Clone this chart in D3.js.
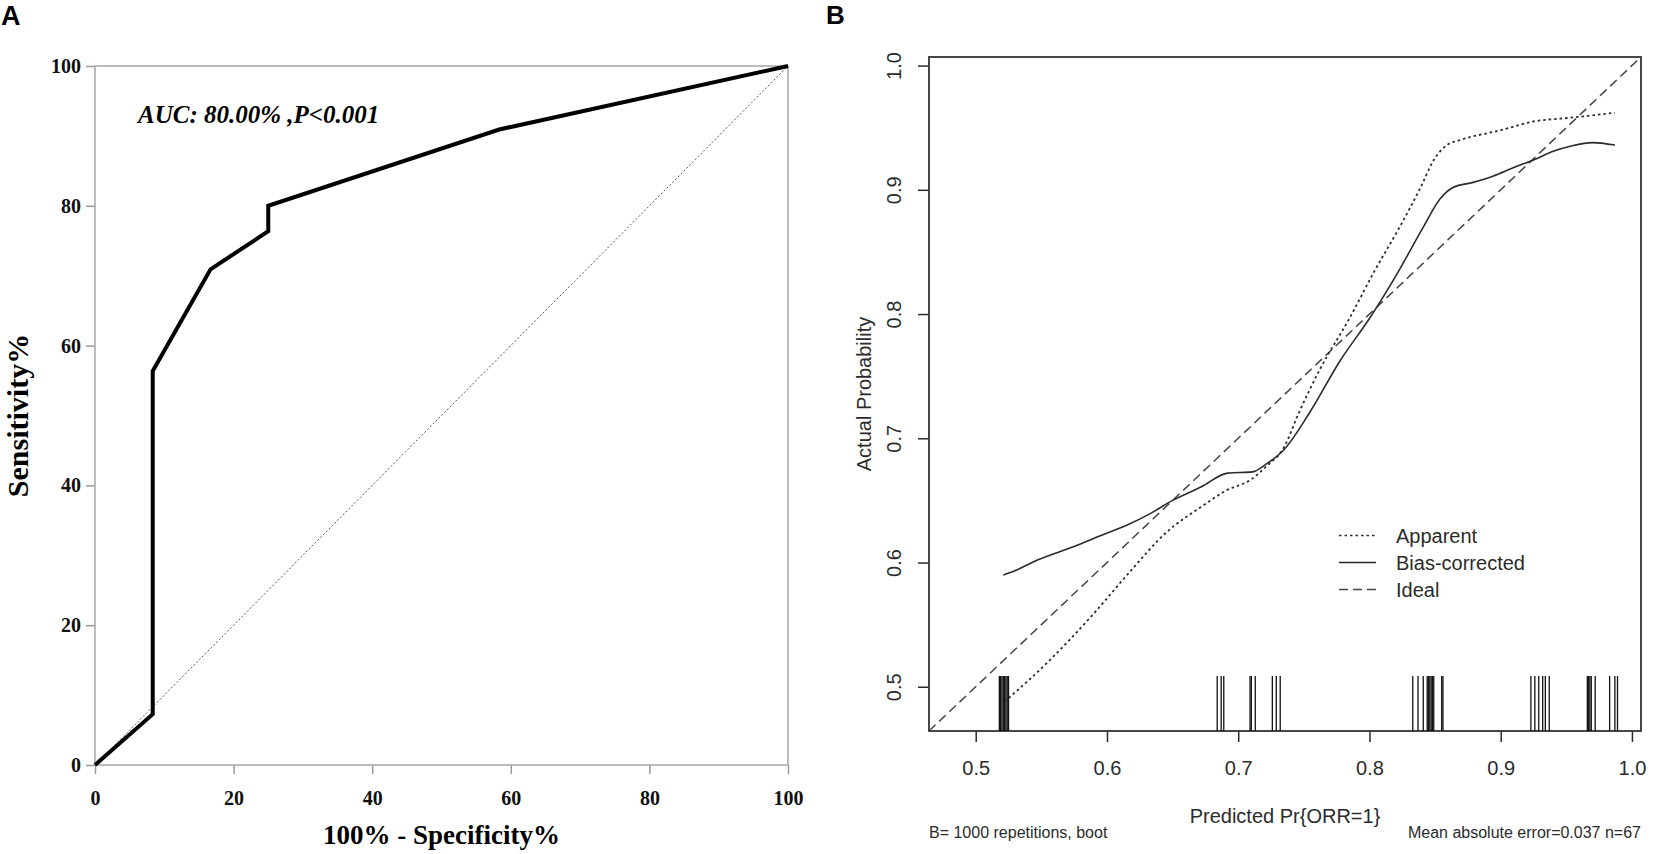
<!DOCTYPE html>
<html>
<head>
<meta charset="utf-8">
<script src="https://cdn.jsdelivr.net/npm/d3@7"></script>
<style>
    body { margin: 0; background: #fff; }
</style>
</head>
<body>
<svg id="drawing_region"></svg>
<script>
// ---- panel A : ROC ----
const rocFpr = [0, 8.33, 8.33, 16.67, 25, 25, 58.33, 100];
const rocTpr = [0, 7.27, 56.36, 70.91, 76.36, 80, 90.91, 100];
const rocTicks = [0, 20, 40, 60, 80, 100];
const aucLabel = "AUC: 80.00% ,P<0.001";

// ---- panel B : calibration ----
const apparentX = [0.522, 0.557, 0.590, 0.617, 0.645, 0.672, 0.691, 0.710, 0.721, 0.735, 0.746, 0.762,
                   0.785, 0.803, 0.823, 0.839, 0.849, 0.859, 0.869, 0.900, 0.925, 0.953, 0.987];
const apparentY = [0.488, 0.522, 0.559, 0.592, 0.624, 0.645, 0.658, 0.667, 0.677, 0.693, 0.720, 0.755,
                   0.797, 0.833, 0.870, 0.902, 0.924, 0.936, 0.940, 0.948, 0.955, 0.958, 0.962];
const biasX = [0.521, 0.529, 0.547, 0.575, 0.596, 0.615, 0.634, 0.650, 0.672, 0.692, 0.711, 0.721, 0.735, 0.754,
               0.778, 0.801, 0.823, 0.841, 0.854, 0.864, 0.879, 0.894, 0.910, 0.925, 0.940, 0.953, 0.970, 0.987];
const biasY = [0.590, 0.593, 0.602, 0.613, 0.622, 0.630, 0.640, 0.650, 0.661, 0.672, 0.673, 0.679, 0.691, 0.720,
               0.763, 0.798, 0.836, 0.870, 0.893, 0.902, 0.906, 0.911, 0.918, 0.924, 0.931, 0.935, 0.938, 0.936];
const rugX = [0.518, 0.519, 0.520, 0.521, 0.522, 0.523, 0.524, 0.525,
              0.684, 0.687, 0.689, 0.709, 0.710, 0.713, 0.726, 0.729, 0.732,
              0.833, 0.837, 0.841, 0.844, 0.845, 0.846, 0.847, 0.848, 0.849, 0.855, 0.856,
              0.923, 0.926, 0.929, 0.932, 0.934, 0.937,
              0.966, 0.967, 0.968, 0.969, 0.972, 0.983, 0.987, 0.989];
const calTicks = [0.5, 0.6, 0.7, 0.8, 0.9, 1.0];
const calRange = [0.4644, 1.0069];
const legendLabels = ["Apparent", "Bias-corrected", "Ideal"];
const subLeft = "B= 1000 repetitions, boot";
const subRight = "Mean absolute error=0.037 n=67";

const serif = "'Liberation Serif', 'Times New Roman', serif";
const sans = "'Liberation Sans', Arial, sans-serif";

const svg = d3.select('#drawing_region')
    .attr('width', 1654)
    .attr('height', 854);

// panel letters
svg.append('text').attr('x', 1).attr('y', 25)
    .attr('font-family', sans).attr('font-weight', 'bold').attr('font-size', 27)
    .text('A');
svg.append('text').attr('x', 826).attr('y', 24)
    .attr('font-family', sans).attr('font-weight', 'bold').attr('font-size', 26)
    .text('B');

class RocChart {
    constructor(config) {
        this.config = config;
        this.init();
    }

    init() {
        let self = this;
        let c = self.config;
        self.width = c.right - c.left;
        self.height = c.bottom - c.top;
        self.chart = svg.append('g')
            .attr('transform', `translate(${c.left}, ${c.top})`);
        self.xscale = d3.scaleLinear().domain([0, 100]).range([0, self.width]);
        self.yscale = d3.scaleLinear().domain([0, 100]).range([self.height, 0]);
    }

    render() {
        let self = this;
        const axisStyle = g => {
            g.select('.domain').remove();
            g.selectAll('line').attr('stroke', '#9a9a9a').attr('stroke-width', 1.5);
            g.selectAll('text').attr('fill', '#111');
            g.attr('font-family', serif).attr('font-weight', 'bold').attr('font-size', 20);
        };

        self.chart.append('g')
            .attr('transform', `translate(0, ${self.height})`)
            .call(d3.axisBottom(self.xscale).tickValues(rocTicks).tickSize(9).tickPadding(17))
            .call(axisStyle);

        self.chart.append('g')
            .call(d3.axisLeft(self.yscale).tickValues(rocTicks).tickSize(9).tickPadding(5))
            .call(axisStyle);

        self.chart.append('rect')
            .attr('width', self.width)
            .attr('height', self.height)
            .attr('fill', 'none')
            .attr('stroke', '#a6a6a6')
            .attr('stroke-width', 1.5);

        // reference diagonal
        self.chart.append('line')
            .attr('x1', self.xscale(0)).attr('y1', self.yscale(0))
            .attr('x2', self.xscale(100)).attr('y2', self.yscale(100))
            .attr('stroke', '#555')
            .attr('stroke-width', 1)
            .attr('stroke-dasharray', '2,2');

        const line = d3.line()
            .x((d, i) => self.xscale(rocFpr[i]))
            .y((d, i) => self.yscale(rocTpr[i]));

        self.chart.append('path')
            .attr('d', line(rocFpr))
            .attr('fill', 'none')
            .attr('stroke', '#000')
            .attr('stroke-width', 4)
            .attr('stroke-linejoin', 'miter');

        self.chart.append('text')
            .attr('x', 43).attr('y', 57)
            .attr('font-family', serif)
            .attr('font-weight', 'bold')
            .attr('font-style', 'italic')
            .attr('font-size', 25)
            .text(aucLabel);

        self.chart.append('text')
            .attr('x', self.width / 2).attr('y', self.height + 79)
            .attr('text-anchor', 'middle')
            .attr('font-family', serif).attr('font-weight', 'bold').attr('font-size', 27)
            .text('100% - Specificity%');

        self.chart.append('text')
            .attr('transform', `translate(${28 - self.config.left}, ${self.height / 2}) rotate(-90)`)
            .attr('text-anchor', 'middle')
            .attr('font-family', serif).attr('font-weight', 'bold').attr('font-size', 30)
            .text('Sensitivity%');
    }
}

class CalibrationChart {
    constructor(config) {
        this.config = config;
        this.init();
    }

    init() {
        let self = this;
        let c = self.config;
        self.width = c.right - c.left;
        self.height = c.bottom - c.top;
        self.chart = svg.append('g')
            .attr('transform', `translate(${c.left}, ${c.top})`);
        self.xscale = d3.scaleLinear().domain(calRange).range([0, self.width]);
        self.yscale = d3.scaleLinear().domain(calRange).range([self.height, 0]);
    }

    render() {
        let self = this;
        const ink = '#2b2b2b';
        const dashes = { Apparent: '2.5,3', 'Bias-corrected': null, Ideal: '9,5' };

        const axisStyle = g => {
            g.select('.domain').remove();
            g.selectAll('line').attr('stroke', ink).attr('stroke-width', 1.5);
            g.selectAll('text').attr('fill', ink);
            g.attr('font-family', sans).attr('font-size', 20);
        };

        self.chart.append('g')
            .attr('transform', `translate(0, ${self.height})`)
            .call(d3.axisBottom(self.xscale).tickValues(calTicks).tickSize(11).tickPadding(19)
                .tickFormat(d3.format('.1f')))
            .call(axisStyle);

        self.chart.append('g')
            .call(d3.axisLeft(self.yscale).tickValues(calTicks).tickSize(11)
                .tickFormat(d3.format('.1f')))
            .call(axisStyle)
            .selectAll('text')
            .attr('x', null).attr('dy', null)
            .attr('text-anchor', 'middle')
            .attr('transform', 'translate(-28, 0) rotate(-90)');

        self.chart.append('rect')
            .attr('width', self.width)
            .attr('height', self.height)
            .attr('fill', 'none')
            .attr('stroke', '#333')
            .attr('stroke-width', 1.8);

        // rug of predicted values
        self.chart.append('g')
            .selectAll('line')
            .data(rugX)
            .join('line')
            .attr('x1', d => self.xscale(d)).attr('x2', d => self.xscale(d))
            .attr('y1', self.height).attr('y2', self.height - 55)
            .attr('stroke', '#111')
            .attr('stroke-width', 1.3);

        // ideal line
        self.chart.append('line')
            .attr('x1', self.xscale(calRange[0])).attr('y1', self.yscale(calRange[0]))
            .attr('x2', self.xscale(calRange[1])).attr('y2', self.yscale(calRange[1]))
            .attr('stroke', '#444')
            .attr('stroke-width', 1.5)
            .attr('stroke-dasharray', dashes.Ideal);

        const curve = (xs, ys) => d3.line()
            .x((d, i) => self.xscale(xs[i]))
            .y((d, i) => self.yscale(ys[i]))
            .curve(d3.curveMonotoneX)(xs);

        self.chart.append('path')
            .attr('d', curve(apparentX, apparentY))
            .attr('fill', 'none')
            .attr('stroke', ink)
            .attr('stroke-width', 1.8)
            .attr('stroke-dasharray', dashes.Apparent);

        self.chart.append('path')
            .attr('d', curve(biasX, biasY))
            .attr('fill', 'none')
            .attr('stroke', ink)
            .attr('stroke-width', 1.6);

        // legend
        const legend = self.chart.append('g')
            .attr('transform', `translate(${1339 - self.config.left}, ${535.5 - self.config.top})`);
        legendLabels.forEach((name, i) => {
            legend.append('line')
                .attr('x1', 0).attr('x2', 37)
                .attr('y1', i * 27).attr('y2', i * 27)
                .attr('stroke', name == 'Ideal' ? '#444' : ink)
                .attr('stroke-width', 1.6)
                .attr('stroke-dasharray', dashes[name]);
            legend.append('text')
                .attr('x', 57).attr('y', i * 27)
                .attr('dy', '0.35em')
                .attr('font-family', sans).attr('font-size', 20)
                .attr('fill', ink)
                .text(name);
        });

        self.chart.append('text')
            .attr('x', self.width / 2).attr('y', self.height + 92)
            .attr('text-anchor', 'middle')
            .attr('font-family', sans).attr('font-size', 20).attr('fill', ink)
            .text('Predicted Pr{ORR=1}');

        self.chart.append('text')
            .attr('transform', `translate(-58, ${self.height / 2}) rotate(-90)`)
            .attr('text-anchor', 'middle')
            .attr('font-family', sans).attr('font-size', 20).attr('fill', ink)
            .text('Actual Probability');

        self.chart.append('text')
            .attr('x', 0).attr('y', self.height + 107)
            .attr('font-family', sans).attr('font-size', 16).attr('fill', ink)
            .text(subLeft);

        self.chart.append('text')
            .attr('x', self.width).attr('y', self.height + 107)
            .attr('text-anchor', 'end')
            .attr('font-family', sans).attr('font-size', 16).attr('fill', ink)
            .text(subRight);
    }
}

const rocchart = new RocChart({ left: 95, right: 788, top: 66, bottom: 765 });
rocchart.render();

const calchart = new CalibrationChart({ left: 929, right: 1641, top: 57, bottom: 731 });
calchart.render();
</script>
</body>
</html>
